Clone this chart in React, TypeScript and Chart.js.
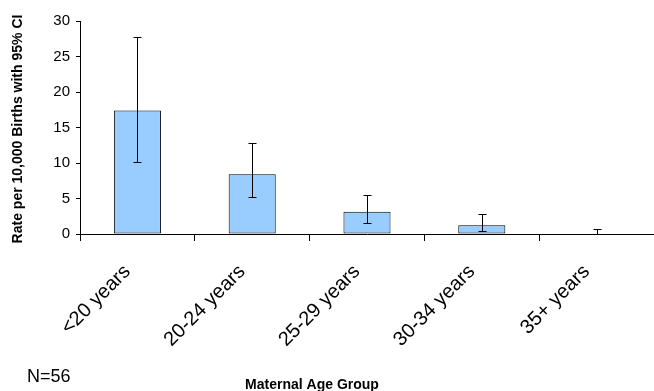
import React, { useEffect, useRef } from "react";
import { Chart, registerables } from "chart.js";

Chart.register(...registerables);

const categories = ["<20 years", "20-24 years", "25-29 years", "30-34 years", "35+ years"];
const rates = [17.4, 8.4, 3.15, 1.22, 0];
const ciUpper = [27.8, 12.8, 5.5, 2.83, 0.75];
const ciLower = [10.1, 5.2, 1.56, 0.42, 0];
const yTitle = "Rate per 10,000 Births with 95% CI";
const xTitle = "Maternal Age Group";
const note = "N=56";

const FONT = "Arial, 'Liberation Sans', sans-serif";

const overlayPlugin = {
  id: "overlay",
  afterDatasetsDraw(chart: any) {
    const ctx = chart.ctx;
    const yScale = chart.scales.y;
    const meta = chart.getDatasetMeta(0);
    ctx.save();
    ctx.strokeStyle = "#000";
    ctx.lineWidth = 1;
    meta.data.forEach((bar: any, i: number) => {
      const x = Math.round(bar.x) + 0.5;
      const yHi = Math.round(yScale.getPixelForValue(ciUpper[i])) + 0.5;
      const yLo = Math.round(yScale.getPixelForValue(ciLower[i])) + 0.5;
      ctx.beginPath();
      ctx.moveTo(x, yHi);
      ctx.lineTo(x, yLo);
      ctx.moveTo(x - 4, yHi);
      ctx.lineTo(x + 4, yHi);
      ctx.moveTo(x - 4, yLo);
      ctx.lineTo(x + 4, yLo);
      ctx.stroke();
    });
    ctx.restore();
  },
  afterDraw(chart: any) {
    const ctx = chart.ctx;
    ctx.save();
    ctx.fillStyle = "#000";
    ctx.font = `bold 14px ${FONT}`;
    ctx.textAlign = "center";
    ctx.textBaseline = "middle";
    ctx.translate(18, 129);
    ctx.rotate(-Math.PI / 2);
    ctx.fillText(yTitle, 0, 0);
    ctx.restore();
    ctx.save();
    ctx.fillStyle = "#000";
    ctx.font = `bold 14px ${FONT}`;
    ctx.textAlign = "center";
    ctx.textBaseline = "alphabetic";
    ctx.fillText(xTitle, 312, 389);
    ctx.font = `18px ${FONT}`;
    ctx.textAlign = "left";
    ctx.fillText(note, 27, 382);
    ctx.restore();
  },
};

export default function App() {
  const ref = useRef<HTMLCanvasElement | null>(null);
  useEffect(() => {
    if (!ref.current) return;
    const chart = new Chart(ref.current, {
      type: "bar",
      data: {
        labels: categories,
        datasets: [
          {
            data: rates,
            backgroundColor: "#99CCFF",
            borderColor: "#000",
            borderWidth: 1,
            borderSkipped: false,
            barPercentage: 0.41,
            categoryPercentage: 1,
          },
        ],
      },
      options: {
        responsive: true,
        maintainAspectRatio: false,
        animation: false,
        layout: { padding: { top: 21, right: 0, bottom: 0, left: 0 } },
        plugins: { legend: { display: false }, tooltip: { enabled: false } },
        scales: {
          x: {
            offset: true,
            grid: {
              display: true,
              drawOnChartArea: false,
              drawTicks: true,
              tickLength: 7,
              offset: true,
              color: "#000",
            },
            border: { display: true, color: "#000", width: 1 },
            ticks: {
              color: "#000",
              font: { family: FONT, size: 20 },
              minRotation: 45,
              maxRotation: 45,
              padding: 19,
              labelOffset: -10,
              autoSkip: false,
            },
            afterFit(scale: any) {
              scale.height = 157;
            },
          },
          y: {
            min: 0,
            max: 30,
            grid: {
              display: true,
              drawOnChartArea: false,
              drawTicks: true,
              tickLength: 4,
              color: "#000",
            },
            border: { display: true, color: "#000", width: 1 },
            ticks: {
              stepSize: 5,
              color: "#000",
              font: { family: FONT, size: 15 },
              padding: 6,
            },
            afterFit(scale: any) {
              scale.width = 80;
            },
          },
        },
      },
      plugins: [overlayPlugin],
    });
    return () => chart.destroy();
  }, []);
  return (
    <div style={{ position: "fixed", left: 0, top: 0, width: 654, height: 391, background: "#fff" }}>
      <canvas ref={ref} />
    </div>
  );
}
